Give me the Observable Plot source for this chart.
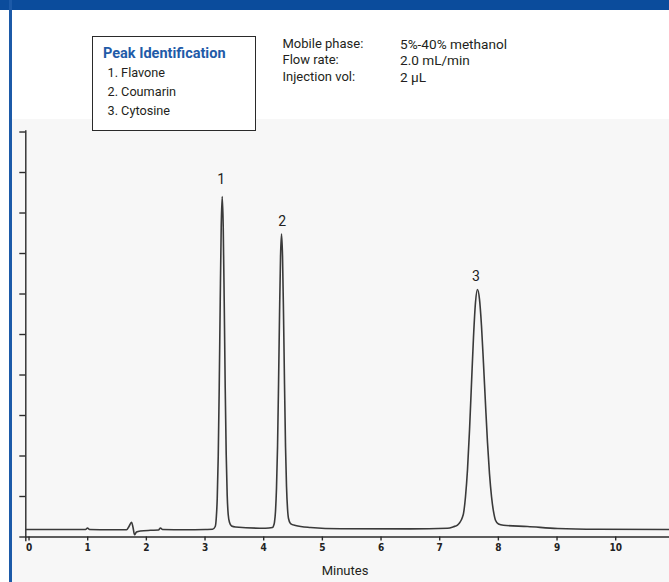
<!DOCTYPE html>
<html><head><meta charset="utf-8">
<script src="https://cdn.jsdelivr.net/npm/d3@7"></script>
<script src="https://cdn.jsdelivr.net/npm/@observablehq/plot@0.6"></script>
<style>
html,body{margin:0;padding:0;background:#fff;}
#wrap{position:relative;width:669px;height:582px;overflow:hidden;background:#fff;font-family:Roboto,"Open Sans",sans-serif;color:#231f20;}
.abs{position:absolute;white-space:nowrap;}
#chart svg{background:transparent !important;}
</style></head><body>
<div id="wrap">
  <div class="abs" style="left:12px;top:119px;width:657px;height:463px;background:#f7f7f7"></div>
  <div id="chart" class="abs" style="left:0;top:0"></div>
  <div class="abs" style="left:0;top:0;width:669px;height:10px;background:#0b4c9c"></div>
  <div class="abs" style="left:9px;top:0;width:3px;height:582px;background:#1c5aa8"></div>
  <div id="legend" class="abs" style="left:92px;top:36px;width:162px;height:93px;border:1px solid #2a2a2a;background:#fff"></div>
</div>
<script>
// ---- data ----
const traceTime = [-0.05,0.54,0.963,0.997,1.031,1.389,1.662,1.704,1.747,1.773,1.798,1.832,1.900,2.071,2.207,2.241,2.275,2.667,3.008,3.128,
  3.174,3.191,3.208,3.225,3.242,3.259,3.276,3.293,3.310,3.327,3.344,3.361,3.378,3.395,3.418,3.452,3.520,
  4.031,4.150,4.167,4.184,4.201,4.218,4.236,4.253,4.270,4.287,4.304,4.321,4.338,4.355,4.372,4.389,4.406,4.423,4.457,4.542,4.798,5.309,6.5,
  7.133,7.235,7.303,7.337,7.372,7.389,7.406,7.440,7.474,7.508,7.542,7.576,7.610,7.644,7.678,7.712,7.746,7.781,7.815,7.849,7.883,7.917,7.951,8.002,8.087,8.497,9.008,9.690,10.917];
const traceSignal = [0.185,0.185,0.185,0.222,0.185,0.178,0.178,0.259,0.365,0.235,0.054,0.123,0.148,0.165,0.173,0.222,0.185,0.178,0.185,0.190,
  0.259,0.457,0.951,1.988,3.691,5.815,7.667,8.407,7.667,5.815,3.691,2.037,1.025,0.556,0.358,0.272,0.247,
  0.215,0.235,0.272,0.365,0.630,1.198,2.235,3.765,5.494,6.926,7.481,6.926,5.494,3.765,2.235,1.247,0.704,0.457,0.333,0.284,0.235,0.202,0.200,
  0.215,0.254,0.296,0.346,0.432,0.494,0.585,1.000,1.667,2.630,3.790,4.933,5.790,6.111,5.874,5.222,4.296,3.272,2.326,1.558,1.000,0.630,0.415,0.321,0.289,0.259,0.210,0.190,0.185];

const peakNumber = [1, 2, 3];
const peakName = ["Flavone", "Coumarin", "Cytosine"];
const labelTime = [3.276, 4.316, 7.619];
const labelLevel = [8.815, 7.778, 6.444];

const xTicks = [0,1,2,3,4,5,6,7,8,9,10];
const yTicks = [0,1,2,3,4,5,6,7,8,9,10];
const xTitle = "Minutes";
const legendTitle = "Peak Identification";
const conditionNames = ["Mobile phase:", "Flow rate:", "Injection vol:"];
const conditionValues = ["5%-40% methanol", "2.0 mL/min", "2 µL"];

// ---- chart ----
const xDomain = [-0.055, 10.917];
const trace = traceTime.map((t, i) => ({t, v: traceSignal[i]}));
const peaks = peakNumber.map((n, i) => ({n, t: labelTime[i], v: labelLevel[i]}));

const chart = Plot.plot({
  width: 669, height: 582,
  marginLeft: 25.3, marginRight: 0, marginTop: 130.3, marginBottom: 45.5,
  x: {domain: xDomain},
  y: {domain: [0, 10.03]},
  style: {background: "transparent", overflow: "visible"},
  marks: [
    Plot.ruleY([0], {stroke: "#2a2a2a", strokeWidth: 1.4}),
    Plot.ruleX([xDomain[0]], {y1: -0.12, y2: 10.03, stroke: "#2a2a2a", strokeWidth: 1.4}),
    Plot.axisY(yTicks, {tickSize: 6, tickFormat: () => "", stroke: "#2a2a2a", strokeWidth: 1.4, label: null}),
    Plot.axisX(xTicks, {tickSize: 4, tickPadding: 3, label: null, stroke: "#2a2a2a", strokeWidth: 1.4,
      fontSize: 10, fontWeight: "bold", fontFamily: "'DejaVu Sans Condensed','DejaVu Sans',sans-serif", fill: "#222"}),
    Plot.line(trace, {x: "t", y: "v", curve: "monotone-x", stroke: "#3a3a3a", strokeWidth: 1.6}),
    Plot.text(peaks, {x: "t", y: "v", text: d => String(d.n), fontSize: 14, fontFamily: "Roboto, sans-serif", fill: "#222"})
  ]
});
document.getElementById("chart").append(chart);

// ---- text overlays ----
const wrap = document.getElementById("wrap");
function addText(txt, left, top, css) {
  const d = document.createElement("div");
  d.className = "abs";
  d.textContent = txt;
  d.style.cssText += `left:${left}px;top:${top}px;` + css;
  wrap.append(d);
  return d;
}
addText(legendTitle, 103, 44.6, "font-size:14.5px;line-height:17px;font-weight:bold;color:#1f5ba8;");
peakNumber.forEach((n, i) => addText(`${n}. ${peakName[i]}`, 107.5, 62.9 + i * 19, "font-size:12.7px;line-height:19px;color:#231f20;"));
conditionNames.forEach((c, i) => {
  addText(c, 282.5, 35.8 + i * 16.5, "font-size:13px;line-height:16.5px;color:#231f20;");
  addText(conditionValues[i], 400, 35.5 + i * 16.5, "font-size:13.6px;line-height:16.5px;color:#231f20;");
});
addText(xTitle, 295, 562.6, "width:100px;text-align:center;font-size:13px;line-height:16px;color:#231f20;");
</script>
</body></html>
